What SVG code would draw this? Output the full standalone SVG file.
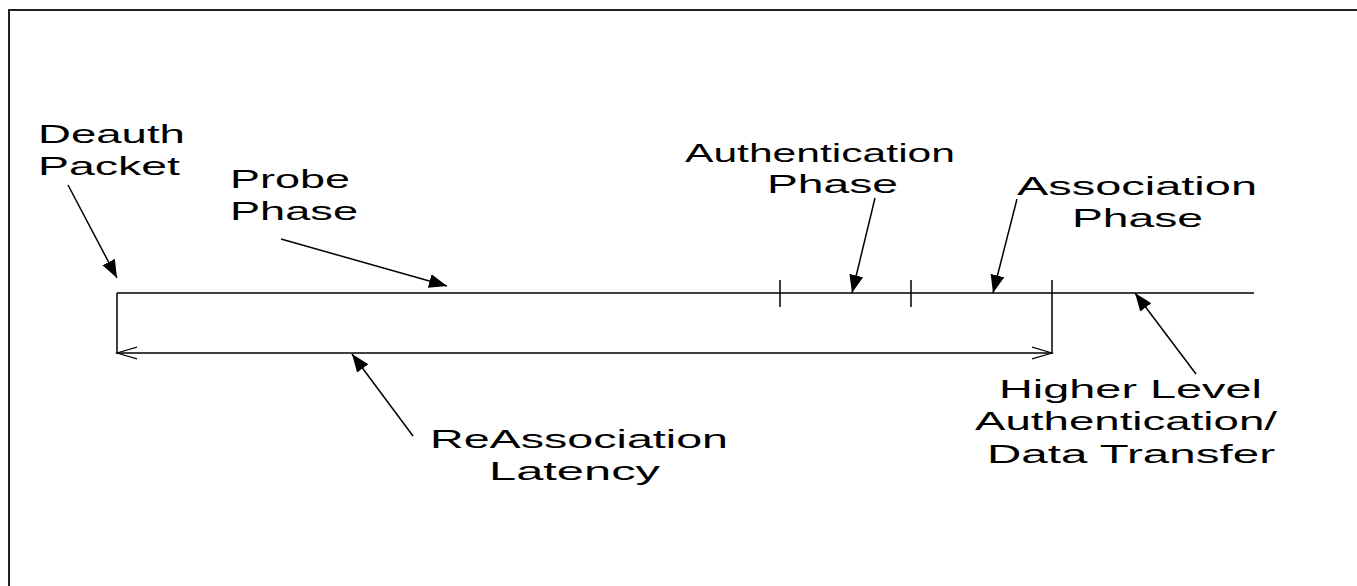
<svg xmlns="http://www.w3.org/2000/svg" width="1357" height="586" viewBox="0 0 1357 586">
<style>
.t{font-family:"Liberation Sans",Arial,sans-serif;font-size:25px;fill:#000}
.ln{stroke:#000;stroke-width:1.5;fill:none}
</style>
<defs>
<marker id="fa" markerUnits="userSpaceOnUse" markerWidth="20" markerHeight="16" refX="18" refY="8" orient="auto">
<path d="M0,1 L18,8 L0,15 Z" fill="#000"/>
</marker>
<marker id="oa" markerUnits="userSpaceOnUse" markerWidth="22" markerHeight="14" refX="20" refY="7" orient="auto-start-reverse">
<path d="M0,1 L20,7 L0,13" fill="none" stroke="#000" stroke-width="1.2"/>
</marker>
</defs>
<rect width="1357" height="586" fill="#fff"/>
<path d="M9,586 L9,10 L1357,10" stroke="#222" stroke-width="2" fill="none"/>
<g id="timeline">
<line class="ln" x1="117" y1="293" x2="1254" y2="293"/>
<line class="ln" x1="117" y1="293" x2="117" y2="354"/>
<line class="ln" x1="780" y1="280" x2="780" y2="307"/>
<line class="ln" x1="911" y1="280" x2="911" y2="307"/>
<line class="ln" x1="1052" y1="280" x2="1052" y2="354"/>
</g>
<g id="connectors">
<line class="ln" x1="117" y1="353" x2="1052" y2="353" marker-start="url(#oa)" marker-end="url(#oa)"/>
<line class="ln" x1="68" y1="185" x2="117" y2="278" marker-end="url(#fa)"/>
<line class="ln" x1="281" y1="239" x2="447" y2="286" marker-end="url(#fa)"/>
<line class="ln" x1="875" y1="198" x2="852" y2="293" marker-end="url(#fa)"/>
<line class="ln" x1="1017" y1="199" x2="993" y2="293" marker-end="url(#fa)"/>
<line class="ln" x1="1196" y1="374" x2="1135" y2="293" marker-end="url(#fa)"/>
<line class="ln" x1="413" y1="436" x2="352" y2="354" marker-end="url(#fa)"/>
</g>
<g id="deauth" transform="scale(1.75,1)">
<text class="t" x="21.71" y="143" textLength="84" lengthAdjust="spacingAndGlyphs">Deauth</text>
<text class="t" x="21.71" y="175" textLength="81.14" lengthAdjust="spacingAndGlyphs">Packet</text>
</g>
<g id="probe" transform="scale(1.75,1)">
<text class="t" x="131.43" y="188" textLength="68.57" lengthAdjust="spacingAndGlyphs">Probe</text>
<text class="t" x="131.43" y="220" textLength="73.14" lengthAdjust="spacingAndGlyphs">Phase</text>
</g>
<g id="auth" transform="scale(1.75,1)">
<text class="t" x="391.43" y="162" textLength="154.29" lengthAdjust="spacingAndGlyphs">Authentication</text>
<text class="t" x="438.29" y="193" textLength="74.86" lengthAdjust="spacingAndGlyphs">Phase</text>
</g>
<g id="assoc" transform="scale(1.75,1)">
<text class="t" x="581.14" y="195" textLength="137.14" lengthAdjust="spacingAndGlyphs">Association</text>
<text class="t" x="612.57" y="227" textLength="74.86" lengthAdjust="spacingAndGlyphs">Phase</text>
</g>
<g id="higher" transform="scale(1.75,1)">
<text class="t" x="570.86" y="398" textLength="150.29" lengthAdjust="spacingAndGlyphs">Higher Level</text>
<text class="t" x="557.14" y="430" textLength="172.57" lengthAdjust="spacingAndGlyphs">Authentication/</text>
<text class="t" x="564" y="463" textLength="164.57" lengthAdjust="spacingAndGlyphs">Data Transfer</text>
</g>
<g id="reassoc" transform="scale(1.75,1)">
<text class="t" x="245.71" y="448" textLength="170.29" lengthAdjust="spacingAndGlyphs">ReAssociation</text>
<text class="t" x="279.43" y="480" textLength="97.71" lengthAdjust="spacingAndGlyphs">Latency</text>
</g>
</svg>
